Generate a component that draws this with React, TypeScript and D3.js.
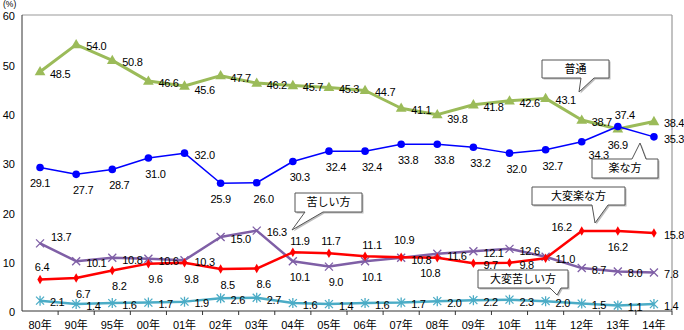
import React from 'react';
import * as d3 from 'd3';

const categories = ['80年','90年','95年','00年','01年','02年','03年','04年','05年','06年','07年','08年','09年','10年','11年','12年','13年','14年'];
const futsu = [48.5,54.0,50.8,46.6,45.6,47.7,46.2,45.7,45.3,44.7,41.1,39.8,41.8,42.6,43.1,38.7,36.9,38.4];
const rakuna = [29.1,27.7,28.7,31.0,32.0,25.9,26.0,30.3,32.4,32.4,33.8,33.8,33.2,32.0,32.7,34.3,37.4,35.3];
const kurushii = [13.7,10.1,10.8,10.6,10.3,15.0,16.3,10.1,9.0,10.1,10.8,11.6,12.1,12.6,11.0,8.7,8.0,7.8];
const taihenRaku = [6.4,6.7,8.2,9.6,9.8,8.5,8.6,11.9,11.7,11.1,10.9,10.8,9.7,9.8,10.7,16.2,16.2,15.8];
const taihenKurushii = [2.1,1.4,1.6,1.7,1.9,2.6,2.7,1.6,1.4,1.6,1.7,2.0,2.2,2.3,2.0,1.5,1.1,1.4];
const yTicks = [0,10,20,30,40,50,60];

// label placement codes (layout, kept apart from data)
const futsuPos = ['r','r','r','r','rd','r','r','r','r','r','r','rd','r','r','r','r','b','r'];
const rakunaPos = ['b','br','br','br','r','b','br','br','br','br','br','br','br','br','br','brr','ar','r'];
const kurushiiPos = ['ru','r','r','r','r','r','r','br','br','br','r','r','r','r','r','r','r','r'];
const taihenRakuPos = ['a','br','br','br','br','br','br','ar','a','ar','a2','bl','r','r','b','l','b','r'];
const taihenKurushiiPos = Array(18).fill('r');

const OFF: Record<string, [number, number, string]> = {
  r: [10, 2, 'start'],
  rd: [10, 4, 'start'],
  ru: [11, -6, 'start'],
  b: [0, 16, 'middle'],
  br: [7, 16, 'middle'],
  brr: [17, 13, 'middle'],
  bl: [-7, 15, 'middle'],
  a: [2, -12, 'middle'],
  a2: [3, -17, 'middle'],
  ar: [7, -11, 'middle'],
  l: [-10, -4, 'end'],
};

const callouts = [
  { text: '普通', x: 542, y: 60, w: 67, h: 18, tail: [[581, 78], [579, 92], [594, 78]] },
  { text: '楽な方', x: 592, y: 159, w: 66, h: 19, tail: [[632, 159], [640, 143], [646, 159]] },
  { text: '大変楽な方', x: 532, y: 187, w: 93, h: 18, tail: [[592, 205], [595, 223], [608, 205]] },
  { text: '苦しい方', x: 295, y: 193, w: 67, h: 19, tail: [[305, 212], [292, 230], [323, 212]] },
  { text: '大変苦しい方', x: 478, y: 270, w: 90, h: 18, tail: [[550, 288], [557, 295], [561, 288]] },
];

const FONT = '"Liberation Sans", Arial, "Noto Sans CJK JP", sans-serif';

export default function App() {
  const W = 684, H = 330;
  const x = d3.scaleBand<string>().domain(categories).range([22, 672]);
  const y = d3.scaleLinear().domain([0, 60]).range([311, 15]);
  const cx = (i: number) => (x(categories[i]) as number) + x.bandwidth() / 2;
  const line = d3.line<number>().x((_, i) => cx(i)).y((v) => y(v));

  const series = [
    { data: futsu, pos: futsuPos, color: '#9BBB59', width: 3, marker: 'tri' },
    { data: rakuna, pos: rakunaPos, color: '#0000FF', width: 1.5, marker: 'circle' },
    { data: kurushii, pos: kurushiiPos, color: '#7F5FA6', width: 2.5, marker: 'x' },
    { data: taihenRaku, pos: taihenRakuPos, color: '#FF0000', width: 2.5, marker: 'diamond' },
    { data: taihenKurushii, pos: taihenKurushiiPos, color: '#4BACC6', width: 2.5, marker: 'star' },
  ];

  const triPath = d3.symbol().type(d3.symbolTriangle).size(50)() as string;
  const diaPath = d3.symbol().type(d3.symbolDiamond).size(26)() as string;

  const marker = (m: string, color: string, px: number, py: number, key: string) => {
    if (m === 'tri') return <path key={key} d={triPath} transform={`translate(${px},${py + 0.5})`} fill={color} />;
    if (m === 'circle') return <circle key={key} cx={px} cy={py} r={3.8} fill={color} />;
    if (m === 'diamond') return <path key={key} d={diaPath} transform={`translate(${px},${py})`} fill={color} />;
    const s = 4;
    if (m === 'x')
      return <path key={key} d={`M${px - s},${py - s}L${px + s},${py + s}M${px - s},${py + s}L${px + s},${py - s}`} stroke={color} strokeWidth={1.3} fill="none" />;
    return (
      <path key={key} d={`M${px - s},${py - s}L${px + s},${py + s}M${px - s},${py + s}L${px + s},${py - s}M${px},${py - s - 1}L${px},${py + s + 1}`} stroke={color} strokeWidth={1.3} fill="none" />
    );
  };

  return (
    <svg width={W} height={H} style={{ position: 'absolute', left: 0, top: 0, background: '#fff' }} fontFamily={FONT}>
      {/* frame */}
      <line x1={22} x2={672} y1={15} y2={15} stroke="#999" strokeWidth={1.2} />
      <line x1={672} x2={672} y1={15} y2={311} stroke="#999" strokeWidth={1.2} />
      <line x1={22} x2={22} y1={15} y2={311} stroke="#333" strokeWidth={1} />
      <line x1={22} x2={672} y1={311} y2={311} stroke="#333" strokeWidth={1} />
      {categories.map((c, i) => (
        <line key={'t' + i} x1={(x(c) as number) + x.bandwidth()} x2={(x(c) as number) + x.bandwidth()} y1={311} y2={315} stroke="#333" />
      ))}
      {yTicks.map((t) => (
        <text key={'y' + t} x={15} y={y(t) + 1.5} dy="0.35em" textAnchor="end" fontSize={11} fill="#000">{t}</text>
      ))}
      <text x={3} y={4} dy="0.35em" fontSize={8.5} fill="#000">(%)</text>
      {categories.map((c, i) => (
        <text key={'x' + i} x={cx(i)} y={325} dy="0.35em" textAnchor="middle" fontSize={11} fill="#000">{c}</text>
      ))}
      {series.map((s, si) => (
        <g key={'s' + si}>
          <path d={line(s.data) as string} fill="none" stroke={s.color} strokeWidth={s.width} strokeLinejoin="round" />
          {s.data.map((v, i) => marker(s.marker, s.color, cx(i), y(v), `m${si}-${i}`))}
        </g>
      ))}
      {series.map((s, si) => (
        <g key={'l' + si}>
          {s.data.map((v, i) => {
            const o = OFF[s.pos[i]];
            return (
              <text key={i} x={cx(i) + o[0]} y={y(v) + o[1]} dy="0.35em" textAnchor={o[2]} fontSize={11} fill="#000" letterSpacing={-0.3}>
                {v.toFixed(1)}
              </text>
            );
          })}
        </g>
      ))}
      {callouts.map((c, i) => {
        const [p1, p2, p3] = c.tail;
        const r = c.x + c.w, b = c.y + c.h;
        let d: string;
        if (p1[1] >= b - 1) {
          d = `M${c.x},${c.y}H${r}V${b}H${p3[0]}L${p2[0]},${p2[1]}L${p1[0]},${b}H${c.x}Z`;
        } else {
          d = `M${c.x},${c.y}H${p1[0]}L${p2[0]},${p2[1]}L${p3[0]},${c.y}H${r}V${b}H${c.x}Z`;
        }
        return (
          <g key={'c' + i}>
            <path d={d} transform="translate(1.5,1.5)" fill="#bbb" />
            <path d={d} fill="#fff" stroke="#555" strokeWidth={1} />
            <text x={c.x + c.w / 2} y={c.y + c.h / 2} dy="0.35em" textAnchor="middle" fontSize={11} fill="#000" fontFamily='"Noto Sans CJK JP", sans-serif'>{c.text}</text>
          </g>
        );
      })}
    </svg>
  );
}
